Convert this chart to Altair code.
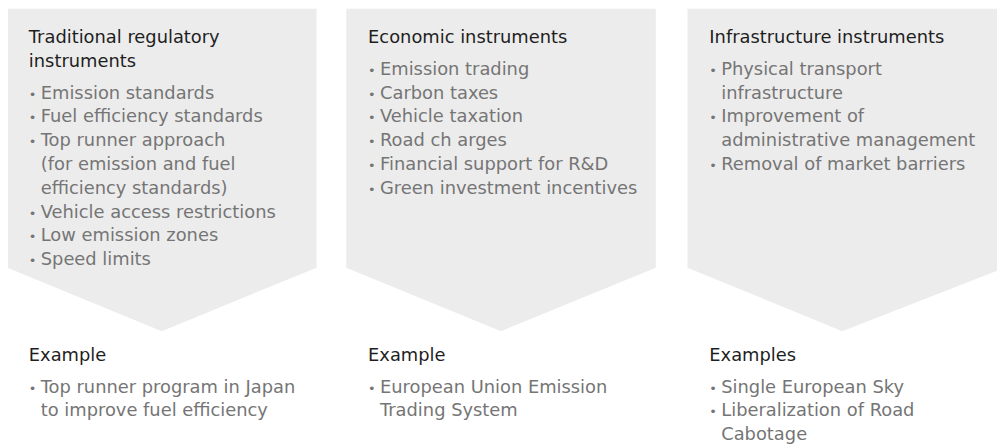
import altair as alt
import pandas as pd

# ---- content ----
headings = [["Traditional regulatory", "instruments"],
            ["Economic instruments"],
            ["Infrastructure instruments"]]
items = [
    [["Emission standards"], ["Fuel efficiency standards"],
     ["Top runner approach", "(for emission and fuel", "efficiency standards)"],
     ["Vehicle access restrictions"], ["Low emission zones"], ["Speed limits"]],
    [["Emission trading"], ["Carbon taxes"], ["Vehicle taxation"], ["Road ch arges"],
     ["Financial support for R&D"], ["Green investment incentives"]],
    [["Physical transport", "infrastructure"], ["Improvement of", "administrative management"],
     ["Removal of market barriers"]],
]
example_titles = ["Example", "Example", "Examples"]
examples = [
    [["Top runner program in Japan", "to improve fuel efficiency"]],
    [["European Union Emission", "Trading System"]],
    [["Single European Sky"], ["Liberalization of Road", "Cabotage"]],
]

# ---- layout (page pixel units) ----
W, H = 997, 439
PAGE_X0, PAGE_Y0 = 8, 8
panel_left = [7, 349, 693]
panel_w = 312
top_y, side_y, tip_y = 7, 268, 332
text_dx, bullet_dx, indent_dx = 22, 22, 34
head_y0, step, gap = 41.5, 24, 32
ex_title_y, ex_y0 = 362, 394
FONT = "DejaVu Sans"
FS = 18

# shapes
shape_rows = []
for p, L in enumerate(panel_left):
    w = panel_w + (8 if p == 2 else 0)
    for x, yb in [(L, side_y), (L + panel_w / 2, tip_y), (L + w, side_y)]:
        shape_rows.append({"panel": p, "x": x, "y": top_y, "y2": yb})
shapes = pd.DataFrame(shape_rows)

head_rows, item_rows, bullet_rows = [], [], []
for p, L in enumerate(panel_left):
    y = head_y0
    for i, line in enumerate(headings[p]):
        head_rows.append({"x": L + text_dx, "y": y, "t": line})
        y += step
    y = y - step + gap
    for it in items[p]:
        bullet_rows.append({"x": L + bullet_dx, "y": y, "t": "•"})
        for line in it:
            item_rows.append({"x": L + indent_dx, "y": y, "t": line})
            y += step
    head_rows.append({"x": L + text_dx, "y": ex_title_y, "t": example_titles[p]})
    y = ex_y0
    for it in examples[p]:
        bullet_rows.append({"x": L + bullet_dx, "y": y, "t": "•"})
        for line in it:
            item_rows.append({"x": L + indent_dx, "y": y, "t": line})
            y += step

xs = alt.Scale(domain=[PAGE_X0, PAGE_X0 + W], nice=False, zero=False)
ys = alt.Scale(domain=[PAGE_Y0, PAGE_Y0 + H], nice=False, zero=False, reverse=True)

area = alt.Chart(shapes).mark_area(color="#ececec", opacity=1).encode(
    x=alt.X("x:Q", scale=xs, axis=None),
    y=alt.Y("y:Q", scale=ys, axis=None),
    y2="y2:Q",
    detail="panel:N",
)

def text_layer(rows, color, size):
    return alt.Chart(pd.DataFrame(rows)).mark_text(
        align="left", baseline="alphabetic", font=FONT, fontSize=size, color=color
    ).encode(
        x=alt.X("x:Q", scale=xs, axis=None),
        y=alt.Y("y:Q", scale=ys, axis=None),
        text="t:N",
    )

chart = alt.layer(
    area,
    text_layer(head_rows, "#1e1e1e", FS),
    text_layer(item_rows, "#757575", FS),
    text_layer(bullet_rows, "#757575", 13),
).properties(
    width=W, height=H, padding=0,
    autosize=alt.AutoSizeParams(type="none"),
    background="white",
).configure_view(stroke=None)

chart.save("out.html", embed_options={"renderer": "svg", "actions": False})
